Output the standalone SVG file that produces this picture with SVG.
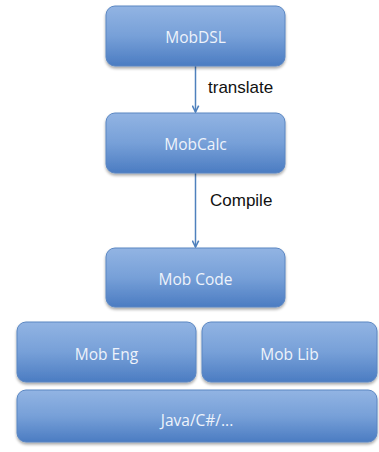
<svg xmlns="http://www.w3.org/2000/svg" width="379" height="452" viewBox="0 0 379 452">
  <defs>
    <linearGradient id="boxFill" x1="0" y1="0" x2="0" y2="1">
      <stop offset="0" stop-color="#92b4e3"/>
      <stop offset="0.5" stop-color="#77a0d8"/>
      <stop offset="1" stop-color="#4b7cc2"/>
    </linearGradient>
    <filter id="shadow" x="-10%" y="-10%" width="120%" height="130%">
      <feGaussianBlur in="SourceAlpha" stdDeviation="1.5"/>
      <feOffset dy="1.5" result="b"/>
      <feComponentTransfer><feFuncA type="linear" slope="0.35"/></feComponentTransfer>
      <feMerge><feMergeNode/><feMergeNode in="SourceGraphic"/></feMerge>
    </filter>
    <marker id="arrow" viewBox="0 0 10 10" refX="9" refY="5" markerWidth="8" markerHeight="8" orient="auto" markerUnits="userSpaceOnUse">
      <path d="M1,1 L9,5 L1,9" fill="none" stroke="#4f81bd" stroke-width="2"/>
    </marker>
  </defs>
  <style>
    .box { fill: url(#boxFill); stroke: #5a86c2; stroke-width: 1; filter: url(#shadow); }
    .lbl { font-family: "Open Sans", "Liberation Sans", sans-serif; font-size: 15.5px; fill: #eef3fb; text-anchor: middle; }
    .edge { stroke: #4f81bd; stroke-width: 1.5; fill: none; }
    .elbl { font-family: "Liberation Sans", Arial, sans-serif; font-size: 17px; fill: #111111; }
  </style>
  <rect width="379" height="452" fill="#ffffff"/>

  <g id="connectors">
    <line class="edge" x1="195.5" y1="66" x2="195.5" y2="112" marker-end="url(#arrow)"/>
    <text class="elbl" x="208" y="93">translate</text>
    <line class="edge" x1="195.5" y1="173" x2="195.5" y2="247" marker-end="url(#arrow)"/>
    <text class="elbl" x="210" y="206">Compile</text>
  </g>

  <g id="mobdsl">
    <rect class="box" x="106" y="6" width="179" height="60" rx="9"/>
    <text class="lbl" x="195.5" y="43">MobDSL</text>
  </g>
  <g id="mobcalc">
    <rect class="box" x="106" y="113" width="179" height="60" rx="9"/>
    <text class="lbl" x="195.5" y="150">MobCalc</text>
  </g>
  <g id="mobcode">
    <rect class="box" x="106" y="248" width="179" height="59" rx="9"/>
    <text class="lbl" x="195.5" y="285">Mob Code</text>
  </g>
  <g id="mobeng">
    <rect class="box" x="17" y="322" width="179" height="60" rx="9"/>
    <text class="lbl" x="106.5" y="359.5">Mob Eng</text>
  </g>
  <g id="moblib">
    <rect class="box" x="202" y="322" width="175" height="60" rx="9"/>
    <text class="lbl" x="289.5" y="359.5">Mob Lib</text>
  </g>
  <g id="java">
    <rect class="box" x="17" y="390" width="360" height="52" rx="9"/>
    <text class="lbl" x="197" y="426">Java/C#/...</text>
  </g>
</svg>
